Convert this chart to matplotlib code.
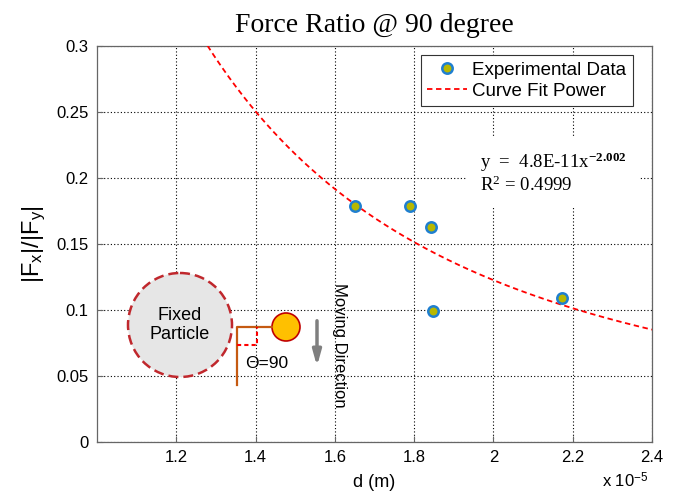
import matplotlib
matplotlib.use("Agg")
import matplotlib.pyplot as plt
import numpy as np
from matplotlib.patches import Circle

# ---- data (x in units of 1e-5 m) ----
d_exp = [1.65, 1.79, 1.843, 1.848, 2.172]
ratio_exp = [0.179, 0.179, 0.163, 0.0995, 0.109]
fit_a = 4.8e-11
fit_b = -2.002
x_ticks = [1.2, 1.4, 1.6, 1.8, 2.0, 2.2, 2.4]
x_tick_labels = ["1.2", "1.4", "1.6", "1.8", "2", "2.2", "2.4"]
y_ticks = [0, 0.05, 0.1, 0.15, 0.2, 0.25, 0.3]
y_tick_labels = ["0", "0.05", "0.1", "0.15", "0.2", "0.25", "0.3"]

sans = "Liberation Sans"
serif = "Liberation Serif"
plt.rcParams["mathtext.fontset"] = "custom"
plt.rcParams["mathtext.rm"] = serif
plt.rcParams["mathtext.bf"] = serif + ":bold"
plt.rcParams["mathtext.it"] = serif + ":italic"

fig = plt.figure(figsize=(6.79, 4.94), dpi=100)
ax = fig.add_axes([97/679, 1-442/494, (652-97)/679, (442-46)/494])

xs = np.linspace(1.0, 2.4, 300)
ys = fit_a * (xs * 1e-5) ** fit_b
ax.plot(xs, ys, color="#ff0000", linestyle=(0, (3, 2)), linewidth=1.3, label="Curve Fit Power", zorder=3)
ax.plot(d_exp, ratio_exp, linestyle="none", marker="o", markersize=7.5,
        markerfacecolor="#b8b800", markeredgecolor="#1f7fd0", markeredgewidth=1.8,
        label="Experimental Data", zorder=4)

ax.set_xlim(1.0, 2.4)
ax.set_ylim(0, 0.3)
ax.set_xticks(x_ticks)
ax.set_xticklabels(x_tick_labels, fontfamily=sans, fontsize=12)
ax.set_yticks(y_ticks)
ax.set_yticklabels(y_tick_labels, fontfamily=sans, fontsize=12)
ax.tick_params(direction="in", length=4, width=0.8, pad=6, color="#666666")
ax.grid(True, color="black", linestyle=(0, (1, 2)), linewidth=0.8)
for s in ax.spines.values():
    s.set_linewidth(0.9)
    s.set_color("#666666")

ax.set_title("Force Ratio @ 90 degree", fontfamily=serif, fontsize=20, pad=10)
ax.set_xlabel("d (m)", fontfamily=sans, fontsize=13, labelpad=6)
ax.set_ylabel("|F$_\\mathregular{x}$|/|F$_\\mathregular{y}$|", fontfamily=sans, fontsize=17)
ax.yaxis.set_label_coords(-0.09, 0.5)
fig.text(602/679, 1-481/494, "x 10$^{\\mathregular{-5}}$", fontfamily=sans, fontsize=12, va="center")

handles, labels = ax.get_legend_handles_labels()
leg = ax.legend(handles[::-1], labels[::-1], loc="upper right", bbox_to_anchor=(0.966, 0.977),
                prop={"family": sans, "size": 13.5}, fancybox=False, edgecolor="#333333",
                framealpha=1, handlelength=2.1, handletextpad=0.3, borderpad=0.35,
                labelspacing=0.2, borderaxespad=0)
leg.get_frame().set_linewidth(0.8)

ax.text(1.966, 0.187, "y  =  4.8E-11x$^{\\mathbf{-2.002}}$\nR$^{\\mathregular{2}}$ = 0.4999",
        fontfamily=serif, fontsize=13.5, va="bottom", ha="left", linespacing=1.1,
        bbox=dict(facecolor="white", edgecolor="none", pad=9), zorder=5)

# ---- decorative inset diagram (pixel coordinates) ----
ov = fig.add_axes([0, 0, 1, 1], zorder=10)
ov.set_xlim(0, 679)
ov.set_ylim(494, 0)
ov.axis("off")
ov.add_patch(Circle((180, 325), 52, facecolor="#e6e6e6", edgecolor="#c0282d",
                    linestyle=(0, (4, 2)), linewidth=1.8))
ov.text(180, 325, "Fixed\nParticle", ha="center", va="center", fontfamily=sans, fontsize=13, linespacing=1.2)
ov.plot([272, 237, 237], [327, 327, 385], color="#c55a11", linewidth=1.6)
ov.plot([237, 257, 257], [345, 345, 327], color="#ff0000", linestyle=(0, (2, 1.5)), linewidth=1.5)
ov.add_patch(Circle((286, 327), 14, facecolor="#ffc000", edgecolor="#c00000", linewidth=1.2))
ov.text(267, 363, "\u0398=90", ha="center", va="center", fontfamily=sans, fontsize=12.5)
ov.annotate("", xy=(317, 369), xytext=(317, 318),
            arrowprops=dict(arrowstyle="-|>,head_length=0.9,head_width=0.25", color="#7f7f7f", linewidth=2.5))
ov.text(340, 345, "Moving Direction", rotation=-90, ha="center", va="center", fontfamily=sans, fontsize=12)

fig.savefig("out.png", dpi=100)
